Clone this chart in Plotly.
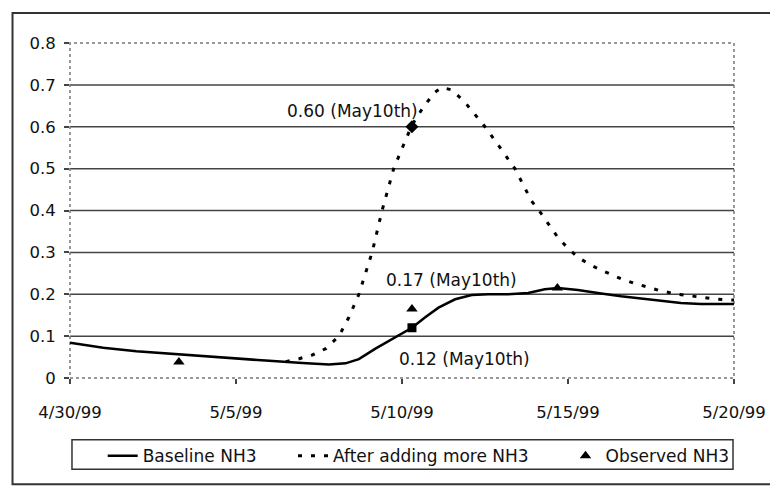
import pandas as pd
import plotly.graph_objects as go

START = pd.Timestamp("1999-04-30")

# days since 4/30/99
baseline_days = [0.0, 1.0, 2.0, 3.0, 4.0, 5.0, 6.0, 7.0, 7.8, 8.3, 8.7, 9.2, 9.7, 10.3,
                 10.7, 11.1, 11.6, 12.1, 12.6, 13.2, 13.8, 14.3, 14.7, 15.3, 16.0,
                 16.6, 17.2, 17.8, 18.4, 19.0, 20.0]
baseline_nh3 = [0.084, 0.072, 0.064, 0.058, 0.052, 0.046, 0.041, 0.036, 0.032, 0.035,
                0.045, 0.070, 0.093, 0.120, 0.145, 0.168, 0.188, 0.198, 0.200, 0.200,
                0.203, 0.212, 0.215, 0.210, 0.202, 0.195, 0.190, 0.184, 0.179, 0.177,
                0.177]

more_days = [6.5, 6.9, 7.3, 7.7, 8.1, 8.4, 8.7, 9.1, 9.4, 9.75, 10.0, 10.3, 10.65,
             11.0, 11.2, 11.5, 11.9, 12.5, 13.0, 13.4, 13.9, 14.2, 14.7, 15.0, 15.3,
             15.7, 16.1, 16.6, 17.0, 17.4, 17.8, 18.3, 18.7, 19.1, 19.5, 20.0]
more_nh3 = [0.039, 0.046, 0.055, 0.070, 0.100, 0.145, 0.200, 0.300, 0.400, 0.500,
            0.548, 0.604, 0.648, 0.683, 0.694, 0.688, 0.658, 0.600, 0.545, 0.500,
            0.423, 0.392, 0.335, 0.310, 0.288, 0.269, 0.254, 0.237, 0.226, 0.217,
            0.208, 0.200, 0.196, 0.192, 0.188, 0.186]

obs_days = [3.28, 10.3, 14.68]
obs_nh3 = [0.038, 0.165, 0.215]

may10_day = [10.3]
baseline_may10 = [0.12]
more_may10 = [0.60]

x_tick_days = [0, 5, 10, 15, 20]
x_tick_text = ["4/30/99", "5/5/99", "5/10/99", "5/15/99", "5/20/99"]
y_tick_vals = [0, 0.1, 0.2, 0.3, 0.4, 0.5, 0.6, 0.7, 0.8]
y_tick_text = ["0", "0.1", "0.2", "0.3", "0.4", "0.5", "0.6", "0.7", "0.8"]
grid_vals = [0.1, 0.2, 0.3, 0.4, 0.5, 0.6, 0.7]


def to_dt(days):
    return [START + pd.Timedelta(days=d) for d in days]


FONT = "DejaVu Sans, Liberation Sans, Arial"
fig = go.Figure()

fig.add_trace(go.Scatter(x=to_dt(more_days), y=more_nh3, mode="lines",
                         name="After adding more NH3",
                         line=dict(color="black", width=3, dash="4px,9px"),
                         legend="legend2"))
fig.add_trace(go.Scatter(x=to_dt(baseline_days), y=baseline_nh3, mode="lines",
                         name="Baseline NH3", line=dict(color="black", width=2.5),
                         legend="legend"))
fig.add_trace(go.Scatter(x=to_dt(obs_days), y=obs_nh3, mode="markers",
                         name="Observed NH3",
                         marker=dict(symbol="triangle-up", size=10, color="black"),
                         legend="legend3"))
fig.add_trace(go.Scatter(x=to_dt(may10_day), y=baseline_may10, mode="markers",
                         showlegend=False,
                         marker=dict(symbol="square", size=9, color="black")))
fig.add_trace(go.Scatter(x=to_dt(may10_day), y=more_may10, mode="markers",
                         showlegend=False,
                         marker=dict(symbol="diamond", size=10, color="black")))

# annotation labels
afont = dict(size=17, color="#111", family=FONT)
fig.add_annotation(x=to_dt([10.54])[0], y=0.637, text="0.60 (May10th)", showarrow=False,
                   xanchor="right", yanchor="middle", font=afont)
fig.add_annotation(x=to_dt([9.46])[0], y=0.235, text="0.17 (May10th)", showarrow=False,
                   xanchor="left", yanchor="middle", font=afont)
fig.add_annotation(x=to_dt([9.85])[0], y=0.046, text="0.12 (May10th)", showarrow=False,
                   xanchor="left", yanchor="middle", font=afont)

shapes = []
for g in grid_vals:
    shapes.append(dict(type="line", xref="paper", yref="y", x0=0, x1=1, y0=g, y1=g,
                       line=dict(color="#444", width=1.5), layer="below"))
# plot area border (dotted)
shapes.append(dict(type="rect", xref="paper", yref="paper", x0=0, x1=1, y0=0, y1=1,
                   line=dict(color="#777", width=1.5, dash="dot"), layer="below"))
# outer chart border
shapes.append(dict(type="rect", xref="paper", yref="paper",
                   x0=(12 - 70) / 670, x1=(800 - 70) / 670,
                   y0=(390 - 500) / 347, y1=(390 - 12) / 347,
                   line=dict(color="#333", width=2)))
# legend box
shapes.append(dict(type="rect", xref="paper", yref="paper",
                   x0=(72 - 70) / 670, x1=(739 - 70) / 670,
                   y0=(390 - 484.5) / 347, y1=(390 - 454) / 347,
                   line=dict(color="#333", width=1.5)))
fig.update_layout(shapes=shapes)

leg_common = dict(orientation="h", yanchor="middle", xanchor="left",
                  bgcolor="rgba(0,0,0,0)", borderwidth=0,
                  font=dict(size=17, color="#111", family=FONT))
leg_y = (390 - 471) / 347
fig.update_layout(
    legend=dict(x=33 / 670, y=leg_y, **leg_common),
    legend2=dict(x=225 / 670, y=leg_y, **leg_common),
    legend3=dict(x=500 / 670, y=leg_y, **leg_common),
)

fig.update_layout(
    width=770, height=478,
    margin=dict(l=62, r=38, t=35, b=96),
    paper_bgcolor="white", plot_bgcolor="white",
    font=dict(family=FONT, size=16, color="#111"),
    xaxis=dict(type="date", range=[to_dt([0])[0], to_dt([20])[0]],
               tickvals=to_dt(x_tick_days), ticktext=x_tick_text,
               ticks="outside", ticklen=5, tickcolor="#444", tickwidth=1.5,
               showgrid=False, zeroline=False, showline=False,
               ticklabelstandoff=14, tickfont=dict(size=16.5, family=FONT, color="#111")),
    yaxis=dict(range=[0, 0.8], tickvals=y_tick_vals, ticktext=y_tick_text,
               ticks="outside", ticklen=5, tickcolor="#444", tickwidth=1.5,
               showgrid=False, zeroline=False, showline=False,
               ticklabelstandoff=5, tickfont=dict(size=16.5, family=FONT, color="#111")),
)

fig.write_html("out.html")
